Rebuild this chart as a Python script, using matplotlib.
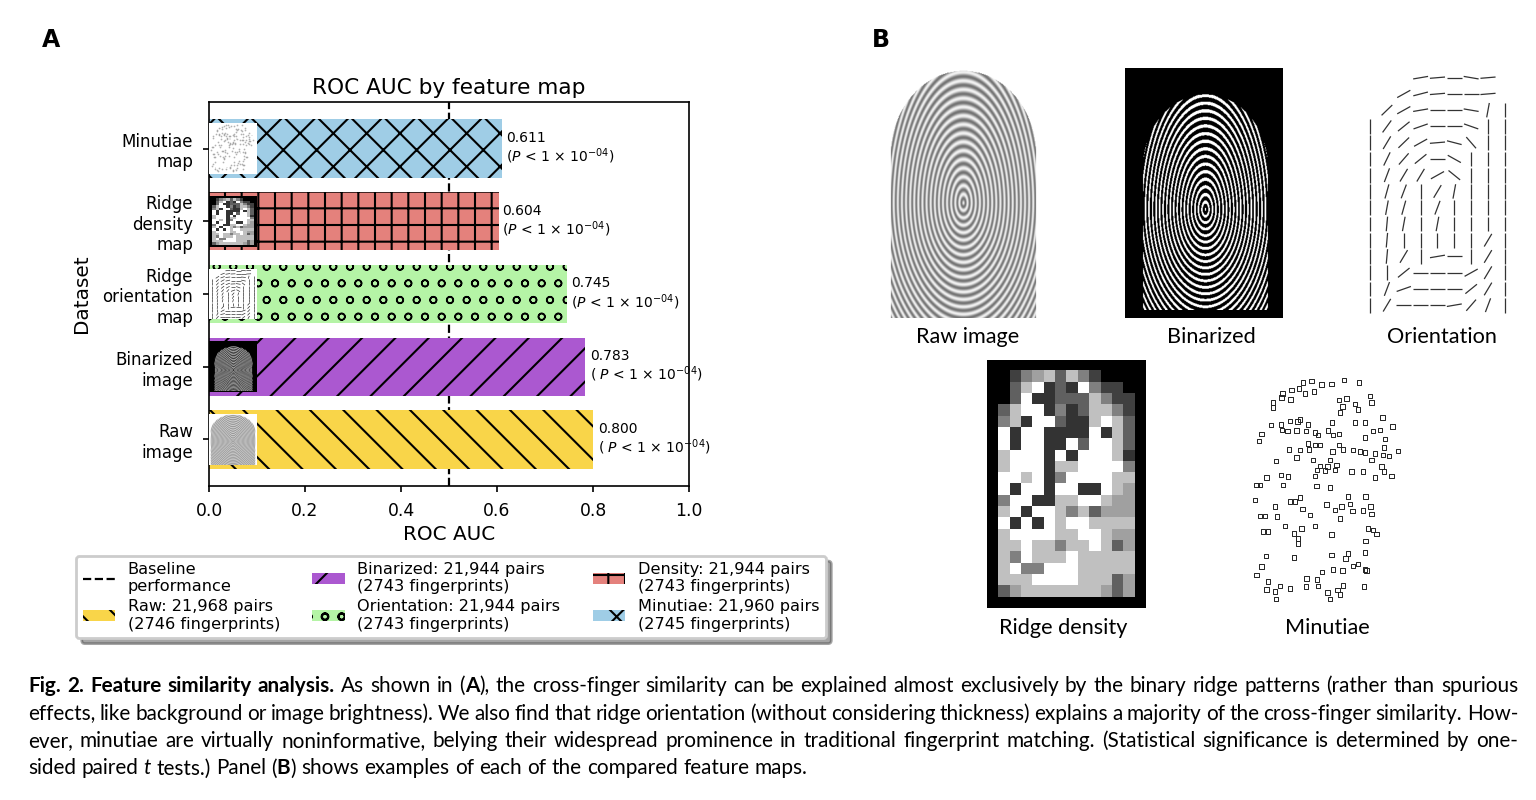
import numpy as np
import matplotlib
matplotlib.use('Agg')
import matplotlib.pyplot as plt
from matplotlib.patches import Patch
from matplotlib.lines import Line2D
from matplotlib.collections import LineCollection
from matplotlib.transforms import IdentityTransform

# ---- panel A data ----
datasets = ['Raw\nimage', 'Binarized\nimage', 'Ridge\norientation\nmap',
            'Ridge\ndensity\nmap', 'Minutiae\nmap']
auc = [0.800, 0.783, 0.745, 0.604, 0.611]
p_labels = ['( $P$ < 1 × $10^{-04}$)', '( $P$ < 1 × $10^{-04}$)',
            '($P$ < 1 × $10^{-04}$)', '($P$ < 1 × $10^{-04}$)',
            '($P$ < 1 × $10^{-04}$)']
bar_colors = ['#f9d549', '#ab58d0', '#b5f4a6', '#e4817c', '#9fcde6']
bar_hatches = ['\\\\', '//', 'oo', '++', 'xx']
legend_labels = ['Raw: 21,968 pairs\n(2746 fingerprints)',
                 'Binarized: 21,944 pairs\n(2743 fingerprints)',
                 'Orientation: 21,944 pairs\n(2743 fingerprints)',
                 'Density: 21,944 pairs\n(2743 fingerprints)',
                 'Minutiae: 21,960 pairs\n(2745 fingerprints)']
baseline = 0.5

# ---- panel B data ----
# ridge density map, grey levels 0 (black) .. 4 (white)
density_grid = [
    [0, 0, 0, 0, 0, 0, 0, 0, 0, 0, 0, 0, 0, 0],
    [0, 0, 1, 2, 2.5, 3, 1.5, 3, 2, 1, 0, 0, 0, 0],
    [0, 0, 1.5, 3, 4, 0.8, 1.5, 0.8, 4, 2, 1, 1, 0, 0],
    [0, 0, 1.5, 4, 0.8, 0.8, 1.5, 1.5, 1.5, 3, 2, 1, 1, 0],
    [0, 1.5, 3, 4, 4, 0.8, 2, 0.8, 1.5, 3, 3, 2, 1, 0],
    [0, 2, 3, 0.8, 4, 4, 1.5, 0.8, 0.8, 3, 4, 3, 1.5, 0],
    [0, 4, 0.8, 4, 4, 0.8, 0.8, 0.8, 0.8, 4, 0.8, 3, 1.5, 0],
    [0, 4, 0.8, 4, 4, 0.8, 0.8, 4, 1.5, 4, 4, 3, 1.5, 0],
    [0, 3, 4, 4, 4, 0.8, 4, 0.8, 4, 4, 4, 3, 0.8, 0],
    [0, 3, 4, 4, 4, 0.8, 3, 3, 4, 4, 4, 4, 2, 0],
    [0, 4, 4, 3, 4, 0.8, 2, 4, 4, 4, 4, 3, 3, 0],
    [0, 4, 0.8, 4, 4, 0.8, 4, 4, 0.8, 0.8, 4, 3, 2.5, 0],
    [0, 2, 4, 4, 0.8, 0.8, 3, 3, 4, 4, 3, 2.5, 2.5, 0],
    [0, 3, 4, 0.8, 4, 4, 3, 2, 3, 1.5, 2.5, 2.5, 2.5, 0],
    [0, 4, 0.8, 4, 0.8, 4, 3, 4, 4, 3, 3, 3, 3, 0],
    [0, 3, 4, 4, 4, 4, 3, 3, 4, 4, 3, 2.5, 2.5, 0],
    [0, 3, 3, 4, 3, 3, 2, 3, 3, 4, 3, 1.5, 2.5, 0],
    [0, 3, 2, 4, 3, 3, 3, 4, 3, 3, 3, 3, 3, 0],
    [0, 3, 4, 2, 2, 4, 4, 4, 3, 3, 3, 3, 3, 0],
    [0, 3, 3, 3, 4, 4, 4, 4, 3, 3, 3, 1.5, 2.5, 0],
    [0, 1.5, 2.5, 3, 3, 3, 3, 3, 3, 3, 2.5, 1.5, 2.5, 0],
    [0, 0, 0, 0, 0, 0, 0, 0, 0, 0, 0, 0, 0, 0],
]

# ridge orientation map, angle in degrees per block (nan = empty)
nan = np.nan
orientation_grid = [
    [nan, nan, nan, 10, 5, 0, -10, 5, nan],
    [nan, nan, 30, 15, 5, 0, 0, 5, nan],
    [nan, 45, 30, 10, 0, 0, -10, 80, 90],
    [90, 55, 40, 20, 0, 0, -20, 90, 90],
    [90, 60, 45, 30, 5, -15, -50, 90, 90],
    [90, 65, 50, 40, 0, -30, 90, 90, 90],
    [90, 70, 60, 60, 30, -40, 90, 90, 90],
    [90, 75, 70, 90, 60, 80, 90, 90, 90],
    [90, 80, 75, 90, 70, 90, 90, 90, 90],
    [90, 85, 80, 90, 80, 90, 90, 90, 90],
    [90, 85, 90, 90, 90, 90, 90, 60, 90],
    [90, 85, 60, 90, 10, 0, 90, 60, 90],
    [90, 90, 40, 0, 0, 0, 30, 60, 90],
    [90, 70, 20, 0, 0, 0, 40, 60, 90],
    [90, 60, 0, 0, 0, 10, 50, 70, 90],
]

# minutiae positions (pixel positions in the example map)
minutiae_x = [310, 335, 365, 395, 432, 478, 298, 275, 315, 343, 248, 245, 272, 220, 220,
              418, 440, 465, 475, 510, 515, 428, 420, 213, 243, 270, 293, 300, 325, 247,
              263, 290, 318, 345, 355, 385, 400, 418, 397, 465, 495, 548, 578, 520, 540,
              555, 495, 185, 178, 325, 345, 360, 268, 300, 327, 398, 418, 430, 460, 480,
              495, 525, 550, 567, 595, 553, 228, 290, 340, 390, 360, 383, 410, 352, 375,
              405, 455, 490, 515, 545, 552, 575, 525, 200, 243, 265, 345, 170, 180, 250,
              350, 390, 165, 270, 285, 300, 445, 497, 380, 405, 425, 450, 458, 490, 512,
              515, 225, 308, 330, 420, 180, 195, 232, 190, 205, 255, 283, 305, 345, 295,
              295, 395, 505, 520, 530, 497, 198, 185, 170, 283, 395, 437, 445, 495, 460,
              475, 495, 500, 400, 428, 367, 320, 352, 205, 200, 240, 270, 318, 355, 430,
              493, 225, 228, 383, 390, 413, 420]
minutiae_y = [68, 63, 73, 72, 60, 67, 85, 90, 100, 95, 100, 112, 118, 128, 143,
              120, 115, 132, 148, 108, 128, 140, 158, 195, 193, 183, 185, 178, 193, 210,
              213, 212, 213, 218, 225, 212, 225, 222, 187, 187, 187, 172, 200, 213, 210,
              237, 232, 222, 243, 250, 255, 255, 268, 270, 268, 275, 255, 268, 270, 275,
              278, 280, 285, 288, 273, 262, 303, 293, 300, 300, 318, 320, 315, 330, 332,
              330, 335, 335, 300, 320, 335, 348, 352, 352, 345, 350, 348, 375, 375, 375,
              378, 383, 420, 425, 425, 413, 410, 410, 433, 450, 440, 432, 453, 452, 440,
              462, 440, 447, 465, 475, 468, 468, 470, 514, 515, 498, 520, 505, 498, 535,
              550, 523, 505, 510, 522, 543, 588, 620, 645, 593, 585, 595, 580, 578, 618,
              612, 628, 632, 628, 632, 636, 656, 658, 665, 688, 678, 685, 680, 678, 677,
              680, 695, 717, 697, 717, 690, 703]

caption_lines = [
    "**Fig. 2. Feature similarity analysis.** As shown in (**A**), the cross-finger similarity can be explained almost exclusively by the binary ridge patterns (rather than spurious",
    "effects, like background or image brightness). We also find that ridge orientation (without considering thickness) explains a majority of the cross-finger similarity. How-",
    "ever, minutiae are virtually noninformative, belying their widespread prominence in traditional fingerprint matching. (Statistical significance is determined by one-",
    "sided paired *t* tests.) Panel (**B**) shows examples of each of the compared feature maps.",
]

plt.rcParams['hatch.linewidth'] = 0.75
plt.rcParams['hatch.color'] = 'black'
plt.rcParams['axes.linewidth'] = 0.6
plt.rcParams['xtick.major.width'] = 0.6
plt.rcParams['ytick.major.width'] = 0.6
plt.rcParams['xtick.major.size'] = 2.2
plt.rcParams['ytick.major.size'] = 2.2

cap_family = 'Lato'


def finger_field(nx=240, ny=380):
    # stylised ridge pattern used for the fingerprint illustrations
    u = np.linspace(-1, 1, nx)
    v = np.linspace(-1, 1, ny)
    U, V = np.meshgrid(u, v)
    dv = V - 0.08
    b = np.where(dv < 0, 1.0, 0.85)
    phase = np.sqrt((U / 0.75) ** 2 + (dv / b) ** 2)
    mask = (np.abs(U) < 0.93) & ((V > -0.3) | ((U / 0.93) ** 2 + ((V + 0.3) / 0.68) ** 2 < 1))
    return np.cos(2 * np.pi * phase / 0.07), mask


ridge, finger = finger_field()


def clean(a, bg='white'):
    a.set_xticks([])
    a.set_yticks([])
    for s in a.spines.values():
        s.set_visible(False)
    a.set_facecolor(bg)


def draw_raw(a):
    img = np.where(finger, 0.7 + 0.25 * ridge, 1.0)
    a.imshow(img, cmap='gray', vmin=0, vmax=1, aspect='auto', extent=(0, 1, 1, 0))
    a.set_xlim(0, 1)
    a.set_ylim(1, 0)
    clean(a)


def draw_binarized(a):
    img = np.where(finger & (ridge > 0.2), 1.0, 0.0)
    a.imshow(img, cmap='gray', vmin=0, vmax=1, aspect='auto', extent=(0.08, 0.93, 0.97, 0.1))
    a.set_xlim(0, 1)
    a.set_ylim(1, 0)
    clean(a, 'black')


def draw_orientation(a, lw=0.45):
    g = np.array(orientation_grid, dtype=float)
    segs = []
    for r in range(g.shape[0]):
        for c in range(g.shape[1]):
            ang = g[r, c]
            if np.isnan(ang):
                continue
            dx = 0.45 * np.cos(np.radians(ang))
            dy = -0.45 * np.sin(np.radians(ang))
            segs.append([(c - dx, r - dy), (c + dx, r + dy)])
    a.add_collection(LineCollection(segs, colors='#333333', linewidths=lw))
    a.set_xlim(-0.6, g.shape[1] - 0.4)
    a.set_ylim(g.shape[0] - 0.4, -0.6)
    clean(a)


def draw_density(a):
    a.imshow(np.array(density_grid), cmap='gray', vmin=0, vmax=4,
             interpolation='nearest', aspect='auto')
    clean(a)


def draw_minutiae(a, s=2.5, lw=0.35, color='#222222'):
    a.scatter(minutiae_x, minutiae_y, s=s, marker='s', facecolors='none',
              edgecolors=color, linewidths=lw)
    a.set_xlim(135, 630)
    a.set_ylim(750, 30)
    clean(a)


fig = plt.figure(figsize=(7.68, 4.0), dpi=200)

# ---- panel A ----
ax = fig.add_axes([0.1361, 0.3925, 0.3125, 0.48])
ypos = np.arange(len(datasets))
bars = ax.barh(ypos, auc, height=0.8, color=bar_colors, edgecolor='black', linewidth=0)
for b, h in zip(bars, bar_hatches):
    b.set_hatch(h)
    if h == 'oo' and hasattr(b, 'set_hatch_linewidth'):
        b.set_hatch_linewidth(0.55)
ax.axvline(baseline, color='black', ls='--', lw=0.8, zorder=0.5)

offsets = [0.011, 0.011, 0.009, 0.006, 0.008]
for yi, v, p, off in zip(ypos, auc, p_labels, offsets):
    ax.text(v + off, yi, f'{v:.3f}\n{p}', va='center', ha='left', fontsize=5.0,
            linespacing=1.1)

thumbs = [draw_raw, draw_binarized, draw_orientation, draw_density, draw_minutiae]
for yi, fn in zip(ypos, thumbs):
    iax = ax.inset_axes([0.0, yi - 0.35, 0.1, 0.7], transform=ax.transData)
    if fn is draw_orientation:
        fn(iax, lw=0.25)
    elif fn is draw_minutiae:
        fn(iax, s=0.12, lw=0.12, color='#777777')
    else:
        fn(iax)

ax.set_xlim(0, 1)
ax.set_yticks(ypos)
ax.set_yticklabels(datasets, fontsize=6)
ax.tick_params(axis='x', labelsize=6.2)
ax.set_xlabel('ROC AUC', fontsize=7.2, labelpad=2)
ax.set_ylabel('Dataset', fontsize=7.2)
ax.set_title('ROC AUC by feature map', fontsize=7.8, pad=3)

handles = [Line2D([], [], color='black', ls='--', lw=0.8)]
for c, h in zip(bar_colors, bar_hatches):
    handles.append(Patch(facecolor=c, edgecolor='black', hatch=h, linewidth=0))
labels = ['Baseline\nperformance'] + legend_labels
# column-major order: baseline, raw | binarized, orientation | density, minutiae
fig.legend(handles, labels, ncol=3, loc='center', bbox_to_anchor=(0.2936, 0.254),
           fontsize=5.8, shadow=True, labelspacing=0.3, handletextpad=0.8,
           columnspacing=2.0)

fig.text(0.0273, 0.95, 'A', fontsize=8.5, fontweight='bold', va='center')
fig.text(0.5677, 0.95, 'B', fontsize=8.5, fontweight='bold', va='center')

# ---- panel B ----
draw_raw(fig.add_axes([0.5762, 0.6025, 0.1022, 0.3125]))
draw_binarized(fig.add_axes([0.7324, 0.6025, 0.1029, 0.3125]))
draw_orientation(fig.add_axes([0.8854, 0.6063, 0.1009, 0.3088]))
draw_density(fig.add_axes([0.6426, 0.24, 0.1035, 0.31]))
draw_minutiae(fig.add_axes([0.8105, 0.2375, 0.1074, 0.3]))

b_labels = [('Raw image', 0.6302, 0.5788), ('Binarized', 0.7884, 0.5788),
            ('Orientation', 0.9388, 0.5788), ('Ridge density', 0.6921, 0.215),
            ('Minutiae', 0.8639, 0.215)]
for txt, x, y in b_labels:
    fig.text(x, y, txt, ha='center', va='center', fontsize=7.8, family='Lato')

# ---- caption (justified) ----
renderer = fig.canvas.get_renderer()


def parse_words(line):
    words, word, buf = [], [], ''
    bold = ital = False
    i = 0
    while i < len(line):
        if line.startswith('**', i) or line[i] == '*' or line[i] == ' ':
            if buf:
                word.append((buf, bold, ital))
                buf = ''
            if line.startswith('**', i):
                bold = not bold
                i += 2
                continue
            if line[i] == '*':
                ital = not ital
            elif word:
                words.append(word)
                word = []
            i += 1
            continue
        buf += line[i]
        i += 1
    if buf:
        word.append((buf, bold, ital))
    if word:
        words.append(word)
    return words


def put(x, y, s, bold, ital, size):
    return fig.text(x, y, s, fontsize=size, family=cap_family,
                    weight='bold' if bold else 'normal',
                    style='italic' if ital else 'normal',
                    transform=IdentityTransform(), va='baseline', ha='left')


def width(s, bold, ital, size):
    t = put(0, 0, s, bold, ital, size)
    w = t.get_window_extent(renderer).width
    t.remove()
    return w


def word_width(word, size):
    return sum(width(s, b, i, size) for s, b, i in word)


x_left, x_right = 28, 1518
target = x_right - x_left
parsed = [parse_words(l) for l in caption_lines]
s0 = 10.0
sp0 = width('a a', False, False, s0) - width('aa', False, False, s0)
nat0 = sum(word_width(w, s0) for w in parsed[0]) + sp0 * (len(parsed[0]) - 1)
cap_size = s0 * target * 0.99 / nat0
space = width('a a', False, False, cap_size) - width('aa', False, False, cap_size)

baselines = [692, 719.5, 747, 774.5]
for k, (words, yb) in enumerate(zip(parsed, baselines)):
    ws = [word_width(w, cap_size) for w in words]
    if k < len(parsed) - 1:
        gap = (target - sum(ws)) / (len(words) - 1)
    else:
        gap = space
    x = x_left
    y = 800 - yb
    for w in words:
        for s, b, i in w:
            put(x, y, s, b, i, cap_size)
            x += width(s, b, i, cap_size)
        x += gap

fig.savefig('out.png', dpi=200)
